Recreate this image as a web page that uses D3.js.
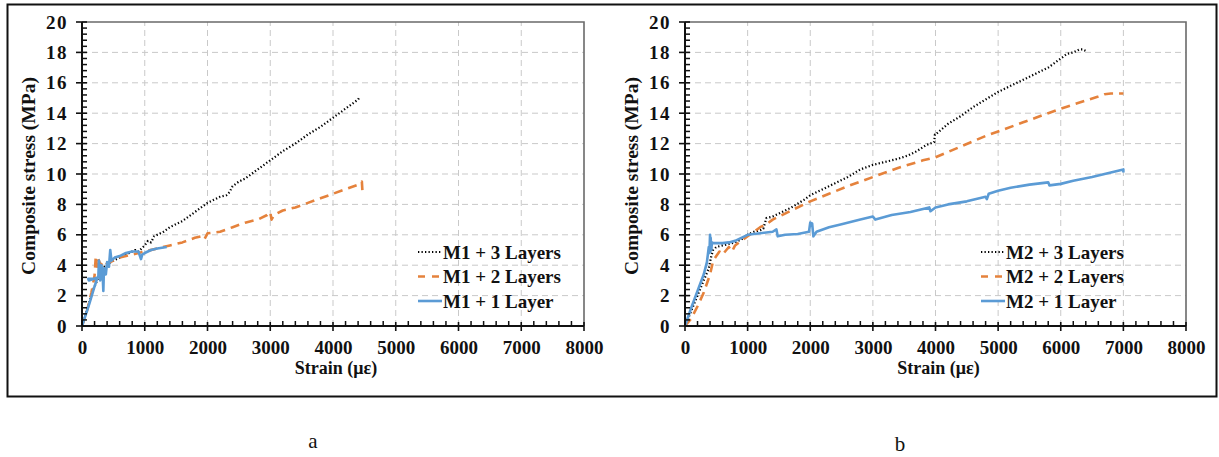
<!DOCTYPE html>
<html>
<head>
<meta charset="utf-8">
<script src="https://cdn.jsdelivr.net/npm/d3@7"></script>
<style>
  html, body { margin: 0; padding: 0; background: #fff; }
  svg { display: block; }
  text { font-family: "Liberation Serif", "Times New Roman", serif; }
</style>
</head>
<body>
<svg id="chart" width="1219" height="457"></svg>
<script>
// ---- Axis ticks ----
const strainTicks = [0, 1000, 2000, 3000, 4000, 5000, 6000, 7000, 8000];
const stressTicks = [0, 2, 4, 6, 8, 10, 12, 14, 16, 18, 20];

// ---- Panel a: M1 specimens ----
const seriesNamesA = ["M1 + 3 Layers", "M1 + 2 Layers", "M1 + 1 Layer"];

const a3Strain = [0, 60, 120, 180, 240, 300, 360, 420, 500, 600, 700, 800, 850, 900, 950, 1000, 1050, 1100, 1150, 1200, 1300, 1400, 1500, 1600, 1700, 1800, 1900, 2000, 2100, 2200, 2300, 2350, 2400, 2500, 2600, 2800, 3000, 3200, 3400, 3600, 3800, 4000, 4200, 4400, 4430];
const a3Stress = [0, 0.8, 1.6, 2.4, 3.0, 3.5, 3.9, 4.1, 4.3, 4.5, 4.7, 4.9, 5.0, 4.9, 5.1, 5.3, 5.6, 5.5, 5.9, 6.0, 6.2, 6.5, 6.7, 6.9, 7.2, 7.5, 7.8, 8.1, 8.3, 8.5, 8.6, 8.8, 9.2, 9.5, 9.7, 10.3, 10.9, 11.5, 12.0, 12.6, 13.1, 13.7, 14.3, 14.9, 15.1];

const a2Strain = [0, 80, 150, 200, 220, 240, 260, 300, 350, 400, 500, 600, 700, 800, 900, 1000, 1200, 1400, 1600, 1800, 1900, 1950, 2000, 2200, 2400, 2600, 2800, 2950, 3000, 3020, 3060, 3200, 3400, 3600, 3800, 4000, 4200, 4400, 4460, 4470];
const a2Stress = [0, 1.0, 2.2, 3.3, 4.6, 3.9, 4.4, 4.0, 4.3, 4.1, 4.3, 4.5, 4.6, 4.7, 4.8, 4.9, 5.1, 5.3, 5.5, 5.8, 5.9, 5.7, 6.1, 6.2, 6.5, 6.8, 7.0, 7.3, 7.5, 7.0, 7.3, 7.6, 7.8, 8.1, 8.4, 8.7, 9.0, 9.3, 9.5, 8.8];

const a1Strain = [0, 120, 200, 240, 100, 110, 260, 270, 290, 310, 330, 340, 350, 380, 400, 430, 450, 470, 520, 600, 700, 800, 900, 940, 960, 1000, 1100, 1200, 1350];
const a1Stress = [0, 1.5, 2.6, 3.1, 3.1, 3.0, 3.2, 4.3, 3.0, 4.0, 3.3, 2.3, 3.8, 3.4, 4.2, 3.9, 5.0, 4.3, 4.5, 4.6, 4.8, 4.9, 4.9, 4.4, 4.7, 4.8, 5.0, 5.1, 5.2];

// ---- Panel b: M2 specimens ----
const seriesNamesB = ["M2 + 3 Layers", "M2 + 2 Layers", "M2 + 1 Layer"];

const b3Strain = [0, 100, 200, 300, 380, 420, 450, 500, 600, 700, 800, 900, 1000, 1100, 1200, 1250, 1300, 1400, 1500, 1700, 1900, 2000, 2200, 2400, 2600, 2800, 3000, 3200, 3400, 3550, 3700, 3850, 3980, 3990, 4000, 4200, 4400, 4600, 4800, 5000, 5200, 5400, 5600, 5800, 5900, 6000, 6100, 6200, 6300, 6350, 6400];
const b3Stress = [0, 1.0, 2.0, 3.0, 3.8, 4.6, 5.0, 5.2, 5.3, 5.4, 5.5, 5.7, 6.0, 6.2, 6.3, 6.4, 7.1, 7.2, 7.4, 7.8, 8.3, 8.6, 9.0, 9.4, 9.8, 10.3, 10.6, 10.8, 11.0, 11.2, 11.5, 11.9, 12.1, 12.6, 12.6, 13.3, 13.8, 14.4, 14.9, 15.4, 15.8, 16.2, 16.6, 17.0, 17.3, 17.6, 17.9, 18.0, 18.2, 18.2, 18.1];

const b2Strain = [0, 100, 200, 300, 400, 450, 500, 550, 600, 700, 750, 800, 900, 1000, 1100, 1200, 1300, 1400, 1500, 1700, 2000, 2300, 2600, 3000, 3400, 3800, 4000, 4400, 4800, 5000, 5400, 5800, 6000, 6300, 6600, 6700, 6800, 7000];
const b2Stress = [0, 0.5, 1.3, 2.2, 3.4, 4.3, 4.6, 4.9, 4.7, 5.2, 4.9, 5.3, 5.6, 5.9, 6.2, 6.5, 6.7, 7.0, 7.2, 7.6, 8.2, 8.7, 9.2, 9.8, 10.4, 10.9, 11.1, 11.8, 12.5, 12.8, 13.4, 14.0, 14.3, 14.7, 15.1, 15.25, 15.3, 15.3];

const b1Strain = [0, 100, 200, 300, 350, 380, 390, 400, 405, 410, 420, 430, 450, 600, 700, 800, 900, 1000, 1200, 1400, 1460, 1480, 1600, 1800, 1980, 2000, 2030, 2050, 2100, 2300, 2500, 2800, 3000, 3040, 3300, 3600, 3900, 3920, 4000, 4200, 4500, 4800, 4820, 4850, 5000, 5200, 5500, 5800, 5820, 6000, 6200, 6500, 6800, 7000, 7000];
const b1Stress = [0, 1.2, 2.3, 3.4, 4.2, 5.2, 4.8, 6.0, 4.9, 5.8, 5.0, 5.5, 5.45, 5.45, 5.5, 5.6, 5.8, 6.0, 6.1, 6.2, 6.35, 5.9, 6.0, 6.05, 6.2, 6.8, 6.75, 5.9, 6.2, 6.5, 6.7, 7.0, 7.2, 7.0, 7.3, 7.5, 7.8, 7.55, 7.8, 8.0, 8.2, 8.5, 8.35, 8.7, 8.9, 9.1, 9.3, 9.45, 9.25, 9.35, 9.55, 9.8, 10.1, 10.3, 10.1];

// ---- Line styles per layer count ----
const styles = [
  { color: "#000000", width: 2.2, dash: "1.3 2.2" },   // 3 layers, dotted
  { color: "#E5823C", width: 2.6, dash: "9 6" },       // 2 layers, dashed
  { color: "#5B9BD5", width: 2.6, dash: null }         // 1 layer, solid
];

const svg = d3.select("#chart");

// outer frame around both panels
svg.append("rect")
  .attr("x", 7.5).attr("y", 4.5)
  .attr("width", 1209).attr("height", 392)
  .attr("fill", "none").attr("stroke", "#111").attr("stroke-width", 2);

function drawPanel(opts) {
  const x = d3.scaleLinear().domain([0, 8000]).range([opts.left, opts.right]);
  const y = d3.scaleLinear().domain([0, 20]).range([326, 22]);
  const g = svg.append("g");

  // dashed grid
  g.selectAll(".gx").data(strainTicks.slice(1, -1)).join("line")
    .attr("x1", d => x(d)).attr("x2", d => x(d))
    .attr("y1", y(0)).attr("y2", y(20))
    .attr("stroke", "#c9c9c9").attr("stroke-width", 1).attr("stroke-dasharray", "6 4");
  g.selectAll(".gy").data(stressTicks.slice(1, -1)).join("line")
    .attr("x1", x(0)).attr("x2", x(8000))
    .attr("y1", d => y(d)).attr("y2", d => y(d))
    .attr("stroke", "#c9c9c9").attr("stroke-width", 1).attr("stroke-dasharray", "6 4");

  // top and right plot border
  g.append("path")
    .attr("d", `M${x(0)},${y(20)}H${x(8000)}V${y(0)}`)
    .attr("fill", "none").attr("stroke", "#6a6a6a").attr("stroke-width", 1.6);

  // curves
  const line = d3.line().x(d => x(d[0])).y(d => y(d[1]));
  opts.series.forEach((s, i) => {
    const pts = s.strain.map((v, k) => [v, s.stress[k]]);
    const st = styles[i];
    g.append("path").datum(pts)
      .attr("d", line)
      .attr("fill", "none")
      .attr("stroke", st.color)
      .attr("stroke-width", st.width)
      .attr("stroke-linejoin", "round")
      .attr("stroke-dasharray", st.dash);
  });

  // axis lines
  g.append("line").attr("x1", x(0)).attr("x2", x(8000)).attr("y1", y(0)).attr("y2", y(0))
    .attr("stroke", "#111").attr("stroke-width", 2);
  g.append("line").attr("x1", x(0)).attr("x2", x(0)).attr("y1", y(0)).attr("y2", y(20))
    .attr("stroke", "#111").attr("stroke-width", 2);

  // minor ticks (inside)
  const minorX = d3.range(200, 8000, 200).filter(v => v % 1000 !== 0);
  g.selectAll(".mx").data(minorX).join("line")
    .attr("x1", d => x(d)).attr("x2", d => x(d))
    .attr("y1", y(0)).attr("y2", y(0) - 5)
    .attr("stroke", "#111").attr("stroke-width", 1.5);
  const minorY = d3.range(1, 50).map(k => k * 0.4).filter(v => Math.abs(v / 2 - Math.round(v / 2)) > 1e-6);
  g.selectAll(".my").data(minorY).join("line")
    .attr("x1", x(0)).attr("x2", x(0) + 5)
    .attr("y1", d => y(d)).attr("y2", d => y(d))
    .attr("stroke", "#111").attr("stroke-width", 1.5);

  // major ticks (crossing)
  g.selectAll(".Mx").data(strainTicks).join("line")
    .attr("x1", d => x(d)).attr("x2", d => x(d))
    .attr("y1", y(0) - 4).attr("y2", y(0) + 5)
    .attr("stroke", "#111").attr("stroke-width", 1.6);
  g.selectAll(".My").data(stressTicks).join("line")
    .attr("x1", x(0) - 6).attr("x2", x(0) + 5)
    .attr("y1", d => y(d)).attr("y2", d => y(d))
    .attr("stroke", "#111").attr("stroke-width", 1.6);

  // tick labels via d3 axes
  const xAxis = g.append("g").attr("transform", `translate(0,${y(0)})`)
    .call(d3.axisBottom(x).tickValues(strainTicks).tickFormat(d3.format("d")).tickSize(0).tickPadding(15));
  xAxis.select(".domain").remove();
  xAxis.selectAll("text")
    .attr("font-family", "Liberation Serif, serif").attr("font-weight", "bold")
    .attr("font-size", 19).attr("fill", "#111");

  const yAxis = g.append("g").attr("transform", `translate(${x(0)},0)`)
    .call(d3.axisLeft(y).tickValues(stressTicks).tickFormat(d3.format("d")).tickSize(0).tickPadding(14));
  yAxis.select(".domain").remove();
  yAxis.selectAll("text")
    .attr("font-family", "Liberation Serif, serif").attr("font-weight", "bold")
    .attr("font-size", 19).attr("letter-spacing", 1.5).attr("fill", "#111");

  // axis titles
  g.append("text")
    .attr("x", (x(0) + x(8000)) / 2 + 3).attr("y", 374)
    .attr("text-anchor", "middle")
    .attr("font-weight", "bold").attr("font-size", 18).attr("fill", "#111")
    .text("Strain (με)");
  g.append("text")
    .attr("transform", `translate(${x(0) - 47},176) rotate(-90)`)
    .attr("text-anchor", "middle")
    .attr("font-weight", "bold").attr("font-size", 19.5).attr("fill", "#111")
    .text("Composite stress (MPa)");

  // legend
  opts.names.forEach((name, i) => {
    const ly = 252 + i * 24.5;
    const st = styles[i];
    g.append("line")
      .attr("x1", opts.legendX - 25).attr("x2", opts.legendX - 1)
      .attr("y1", ly).attr("y2", ly)
      .attr("stroke", st.color).attr("stroke-width", st.width)
      .attr("stroke-dasharray", i === 1 ? "7 7" : st.dash);
    g.append("text")
      .attr("x", opts.legendX).attr("y", ly + 6.5)
      .attr("font-weight", "bold").attr("font-size", 19).attr("fill", "#111")
      .text(name);
  });

  // panel letter
  svg.append("text")
    .attr("x", opts.letterX).attr("y", opts.letterY)
    .attr("text-anchor", "middle")
    .attr("font-size", 21).attr("fill", "#111")
    .text(opts.letter);
}

drawPanel({
  left: 82, right: 584, legendX: 443, letter: "a", letterX: 313, letterY: 448,
  names: seriesNamesA,
  series: [
    { strain: a3Strain, stress: a3Stress },
    { strain: a2Strain, stress: a2Stress },
    { strain: a1Strain, stress: a1Stress }
  ]
});

drawPanel({
  left: 685, right: 1186, legendX: 1006, letter: "b", letterX: 900, letterY: 451,
  names: seriesNamesB,
  series: [
    { strain: b3Strain, stress: b3Stress },
    { strain: b2Strain, stress: b2Stress },
    { strain: b1Strain, stress: b1Stress }
  ]
});
</script>
</body>
</html>
